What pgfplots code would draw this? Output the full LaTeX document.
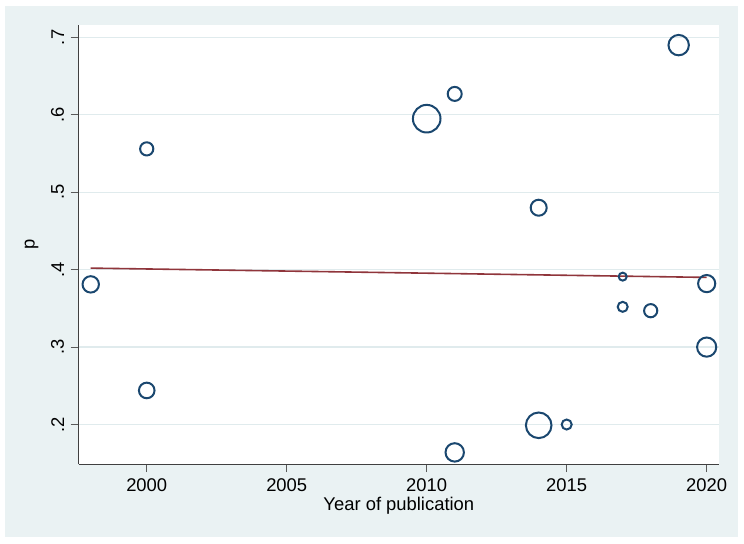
\documentclass[border=0pt]{standalone}
\usepackage{pgfplots}
\pgfplotsset{compat=1.18}
\usepackage{fontspec}
\setmainfont{Liberation Sans}
\definecolor{stbg}{HTML}{EAF2F3}
\definecolor{stgrid}{HTML}{E0EBED}
\definecolor{stnavy}{HTML}{1A476F}
\definecolor{stmaroon}{HTML}{90353B}
\pgfplotstableread{
year p r
1998 0.381 4.1
2000 0.556 3.3
2000 0.244 3.9
2010 0.595 6.9
2011 0.627 3.5
2011 0.164 4.6
2014 0.480 4.0
2014 0.199 6.4
2015 0.200 2.5
2017 0.391 2.0
2017 0.352 2.5
2018 0.347 3.3
2020 0.382 4.3
2020 0.300 4.8
2019 0.690 5.1
}\studies
\begin{document}
\fontsize{9.2pt}{11pt}\selectfont
\begin{tikzpicture}
\fill[white] (0,0) rectangle (372pt,271.5pt);
\fill[stbg] (2.5pt,3.2pt) rectangle (369pt,268.5pt);
\begin{axis}[
  at={(39.35pt,39.5pt)}, anchor=south west,
  scale only axis, width=320.15pt, height=219.5pt,
  xmin=1997.57, xmax=2020.44, ymin=0.149, ymax=0.716,
  clip=false,
  axis x line*=bottom, axis y line*=left,
  axis line style={black!75, line width=0.5pt},
  every tick/.style={black!65, line width=0.5pt},
  major tick length=4pt,
  tick align=outside,
  xtick={2000,2005,2010,2015,2020},
  xticklabels={2000,2005,2010,2015,2020},
  ytick={0.2,0.3,0.4,0.5,0.6,0.7},
  yticklabels={.2,.3,.4,.5,.6,.7},
  yticklabel style={rotate=90, anchor=south, font=\fontsize{9.2pt}{11pt}\selectfont},
  xticklabel style={font=\fontsize{9.2pt}{11pt}\selectfont},
  ymajorgrids,
  grid style={stgrid, line width=0.6pt},
  axis background/.style={fill=white},
  xlabel={Year of publication},
  ylabel={p},
  label style={font=\fontsize{9.2pt}{11pt}\selectfont},
  xlabel style={yshift=3.5pt},
]
\addplot[stmaroon, line width=0.8pt] coordinates {(1998,0.402) (2020,0.390)};
\addplot[scatter, only marks, mark=o, line width=1pt,
  scatter/use mapped color={draw=stnavy},
  visualization depends on={\thisrow{r} \as \rad},
  scatter/@pre marker code/.append style={/tikz/mark size=\rad}]
  table[x=year, y=p] {\studies};
\end{axis}
\end{tikzpicture}
\end{document}
